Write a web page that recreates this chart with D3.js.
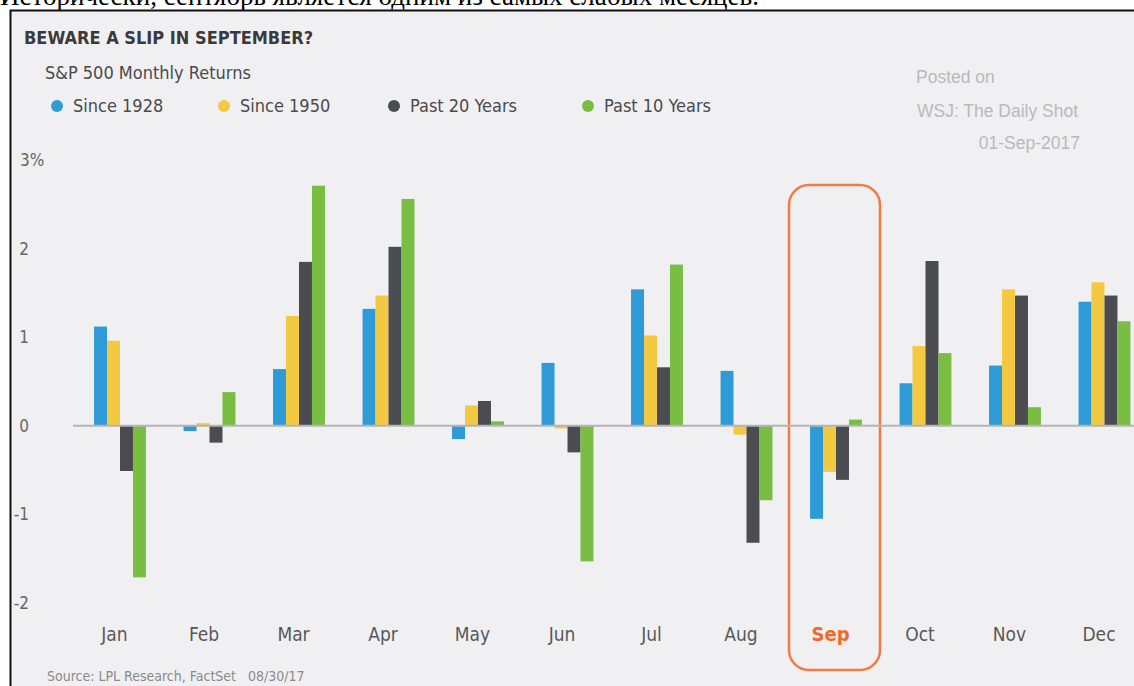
<!DOCTYPE html>
<html>
<head>
<meta charset="utf-8">
<script src="https://cdn.jsdelivr.net/npm/d3@7"></script>
<style>
  body { margin: 0; background: #fff; overflow: hidden; }
  svg { display: block; }
</style>
</head>
<body>
<script>
const WIDTH = 1134
const HEIGHT = 686

// Données
const months = ["Jan", "Feb", "Mar", "Apr", "May", "Jun", "Jul", "Aug", "Sep", "Oct", "Nov", "Dec"]
const seriesNames = ["Since 1928", "Since 1950", "Past 20 Years", "Past 10 Years"]
const since1928 = [1.12, -0.06, 0.64, 1.32, -0.15, 0.71, 1.54, 0.62, -1.05, 0.48, 0.68, 1.40]
const since1950 = [0.96, 0.03, 1.24, 1.47, 0.23, -0.03, 1.02, -0.10, -0.52, 0.90, 1.54, 1.62]
const past20 = [-0.51, -0.19, 1.85, 2.02, 0.28, -0.30, 0.66, -1.32, -0.61, 1.86, 1.47, 1.47]
const past10 = [-1.71, 0.38, 2.71, 2.56, 0.05, -1.53, 1.82, -0.84, 0.07, 0.82, 0.21, 1.18]
const yTicks = [-2, -1, 0, 1, 2, 3]
const colors = ["#2f9bd6", "#f4c942", "#4a4c51", "#7abd43"]

const allSeries = [since1928, since1950, past20, past10]
const rows = months.map((m, i) => ({
    month: m,
    values: allSeries.map((s, k) => ({ key: seriesNames[k], value: s[i] }))
}))

const condensed = "'DejaVu Sans Condensed', 'Liberation Sans Narrow', sans-serif"

const svg = d3.select("body").append("svg")
    .attr("width", WIDTH)
    .attr("height", HEIGHT)

// Bandeau du haut (texte coupé comme dans l'original)
svg.append("text")
    .attr("x", 0)
    .attr("y", 5)
    .attr("font-family", "'Liberation Serif', serif")
    .attr("font-size", 27)
    .attr("fill", "#000")
    .text("Исторически, сентябрь является одним из самых слабых месяцев.")

// Panneau
svg.append("rect")
    .attr("x", 10).attr("y", 10)
    .attr("width", WIDTH - 10).attr("height", HEIGHT - 10)
    .attr("fill", "#f0f0f2")
svg.append("path")
    .attr("d", `M10.5,${HEIGHT} V10.5 H${WIDTH}`)
    .attr("fill", "none")
    .attr("stroke", "#111")
    .attr("stroke-width", 2)

// Titres
svg.append("text")
    .attr("x", 24).attr("y", 44)
    .attr("font-family", condensed)
    .attr("font-weight", "bold")
    .attr("font-size", 18)
    .attr("fill", "#3a3a3c")
    .text("BEWARE A SLIP IN SEPTEMBER?")

svg.append("text")
    .attr("x", 45).attr("y", 79)
    .attr("font-family", condensed)
    .attr("font-size", 18)
    .attr("fill", "#4a4a4c")
    .text("S&P 500 Monthly Returns")

// Légende
const legendX = [57, 224, 394, 588]
const legend = svg.append("g").selectAll("g")
    .data(seriesNames)
    .join("g")
    .attr("transform", (d, i) => `translate(${legendX[i]},106)`)
legend.append("circle")
    .attr("r", 6)
    .attr("fill", (d, i) => colors[i])
legend.append("text")
    .attr("x", 16).attr("y", 6)
    .attr("font-family", condensed)
    .attr("font-size", 18)
    .attr("fill", "#4a4a4c")
    .text(d => d)

// Mention WSJ
const note = svg.append("g")
    .attr("font-family", "'Liberation Sans', Arial, sans-serif")
    .attr("font-size", 17.5)
    .attr("fill", "#b9b9bb")
note.append("text").attr("x", 916).attr("y", 83).text("Posted on")
note.append("text").attr("x", 917).attr("y", 117).text("WSJ: The Daily Shot")
note.append("text").attr("x", 1080).attr("y", 149).attr("text-anchor", "end").text("01-Sep-2017")

// Échelles
const x = d3.scaleBand()
    .domain(months)
    .range([75.25, 1149.25])
    .paddingInner(0.42)
    .paddingOuter(0.21)

const xInner = d3.scaleBand()
    .domain(seriesNames)
    .range([0, x.bandwidth()])

const y = d3.scaleLinear()
    .domain([-2, 3])
    .range([603, 160])

// Axe Y
const yAxis = svg.append("g")
    .attr("transform", "translate(29,0)")
    .call(d3.axisLeft(y).tickValues(yTicks).tickSize(0).tickPadding(0)
        .tickFormat(d => d === 3 ? "3%" : d))
yAxis.select(".domain").remove()
yAxis.selectAll("text")
    .attr("font-family", condensed)
    .attr("font-size", 17)
    .attr("fill", "#666")
yAxis.selectAll(".tick").filter(d => d === 3).select("text")
    .attr("text-anchor", "start")
    .attr("x", -9)

// Cadre orange autour de septembre
svg.append("rect")
    .attr("x", 789).attr("y", 185)
    .attr("width", 91).attr("height", 485)
    .attr("rx", 20)
    .attr("fill", "none")
    .attr("stroke", "#f07b45")
    .attr("stroke-width", 2.5)

// Barres
const groups = svg.append("g").selectAll("g")
    .data(rows)
    .join("g")
    .attr("transform", d => `translate(${x(d.month)},0)`)

groups.selectAll("rect")
    .data(d => d.values)
    .join("rect")
    .attr("x", d => xInner(d.key))
    .attr("y", d => y(Math.max(0, d.value)))
    .attr("width", xInner.bandwidth())
    .attr("height", d => Math.abs(y(d.value) - y(0)))
    .attr("fill", (d, i) => colors[i])

// Ligne zéro
svg.append("line")
    .attr("x1", 73).attr("x2", WIDTH)
    .attr("y1", y(0)).attr("y2", y(0))
    .attr("stroke", "#b4b4b6")
    .attr("stroke-width", 2)

// Axe X
const xAxis = svg.append("g")
    .attr("transform", "translate(-5.5,634)")
    .call(d3.axisBottom(x).tickSize(0).tickPadding(0))
xAxis.select(".domain").remove()
xAxis.selectAll("text")
    .attr("dy", "0.35em")
    .attr("font-family", condensed)
    .attr("font-size", 19)
    .attr("fill", "#58585a")
xAxis.selectAll(".tick").filter(d => d === "Sep").select("text")
    .attr("fill", "#ef6a2e")
    .attr("font-weight", "bold")
    .attr("font-size", 20)

// Source
svg.append("text")
    .attr("x", 47).attr("y", 681)
    .attr("font-family", condensed)
    .attr("font-size", 14)
    .attr("fill", "#8a8a8c")
    .attr("xml:space", "preserve")
    .text("Source: LPL Research, FactSet   08/30/17")
</script>
</body>
</html>
